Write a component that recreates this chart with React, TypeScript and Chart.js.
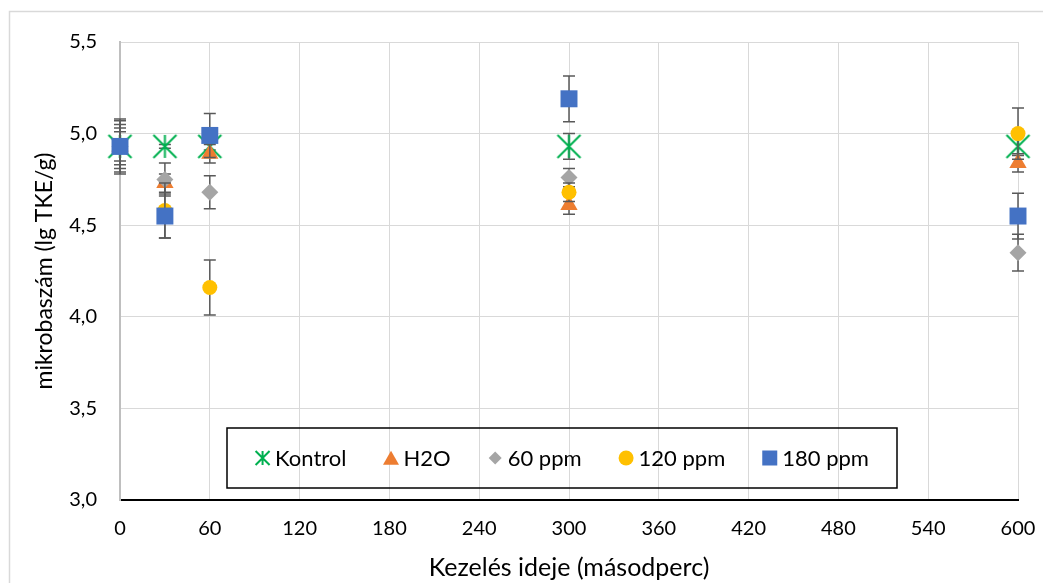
import React, { useEffect, useRef } from "react";
import { Chart, registerables } from "chart.js";
Chart.register(...registerables);

const times = [0, 30, 60, 300, 600];
const seriesNames = ["Kontrol", "H2O", "60 ppm", "120 ppm", "180 ppm"];
const kontrolValues = [4.93, 4.93, 4.93, 4.93, 4.93];
const h2oValues = [4.93, 4.73, 4.89, 4.61, 4.84];
const ppm60Values = [4.93, 4.75, 4.68, 4.76, 4.35];
const ppm120Values = [4.93, 4.58, 4.16, 4.68, 5.0];
const ppm180Values = [4.93, 4.55, 4.99, 5.19, 4.55];
const kontrolErr = [0.08, 0.01, 0.02, 0.07, 0.05];
const h2oErr = [0.1, 0.05, 0.05, 0.05, 0.05];
const ppm60Err = [0.12, 0.09, 0.09, 0.05, 0.1];
const ppm120Err = [0.14, 0.15, 0.15, 0.05, 0.14];
const ppm180Err = [0.15, 0.12, 0.12, 0.125, 0.125];
const xTickValues = [0, 60, 120, 180, 240, 300, 360, 420, 480, 540, 600];
const yTickValues = [3.0, 3.5, 4.0, 4.5, 5.0, 5.5];

const colors = ["#00B050", "#ED7D31", "#A5A5A5", "#FFC000", "#4472C4"];
const styles = ["star", "triangle", "rectRot", "circle", "rect"];
const FONT = "Lato";

function makeStar(size: number, color: string, lw: number) {
  const c = document.createElement("canvas");
  c.width = size;
  c.height = size;
  const g = c.getContext("2d")!;
  g.strokeStyle = color;
  g.lineWidth = lw;
  const p = lw;
  g.beginPath();
  g.moveTo(p, p);
  g.lineTo(size - p, size - p);
  g.moveTo(size - p, p);
  g.lineTo(p, size - p);
  g.moveTo(size / 2, p);
  g.lineTo(size / 2, size - p);
  g.stroke();
  return c;
}

function drawMarker(ctx: CanvasRenderingContext2D, style: string, x: number, y: number, color: string, s: number) {
  ctx.save();
  ctx.fillStyle = color;
  ctx.strokeStyle = color;
  ctx.beginPath();
  if (style === "star") {
    const h = s / 2;
    ctx.lineWidth = 2;
    ctx.moveTo(x - h, y - h);
    ctx.lineTo(x + h, y + h);
    ctx.moveTo(x + h, y - h);
    ctx.lineTo(x - h, y + h);
    ctx.moveTo(x, y - h);
    ctx.lineTo(x, y + h);
    ctx.stroke();
  } else if (style === "triangle") {
    ctx.moveTo(x, y - s * 0.45);
    ctx.lineTo(x + s / 2, y + s * 0.42);
    ctx.lineTo(x - s / 2, y + s * 0.42);
    ctx.closePath();
    ctx.fill();
  } else if (style === "rectRot") {
    const h = s / 2;
    ctx.moveTo(x, y - h);
    ctx.lineTo(x + h, y);
    ctx.lineTo(x, y + h);
    ctx.lineTo(x - h, y);
    ctx.closePath();
    ctx.fill();
  } else if (style === "circle") {
    ctx.arc(x, y, s / 2, 0, Math.PI * 2);
    ctx.fill();
  } else {
    ctx.fillRect(x - s / 2, y - s / 2, s, s);
  }
  ctx.restore();
}

export default function App() {
  const ref = useRef<HTMLCanvasElement>(null);
  useEffect(() => {
    document.body.style.margin = "0";
    const valuesList = [kontrolValues, h2oValues, ppm60Values, ppm120Values, ppm180Values];
    const errList = [kontrolErr, h2oErr, ppm60Err, ppm120Err, ppm180Err];
    const radii = [13, 10, 8.5, 7.5, 12];
    const starImg = makeStar(27, colors[0], 2);

    const datasets = seriesNames.map((name, i) => ({
      label: name,
      data: times.map((t, j) => ({ x: t, y: valuesList[i][j] })),
      backgroundColor: colors[i],
      borderColor: colors[i],
      pointStyle: i === 0 ? (starImg as any) : styles[i],
      pointRadius: radii[i],
      pointBorderWidth: 0,
      showLine: false,
      clip: false,
      order: 5 - i,
    }));

    const errorBars = {
      id: "errorBars",
      beforeDatasetDraw(chart: any, args: any) {
        const i = args.index;
        const { ctx } = chart;
        const xs = chart.scales.x;
        const ys = chart.scales.y;
        ctx.save();
        ctx.strokeStyle = "#595959";
        ctx.lineWidth = 1.5;
        times.forEach((t, j) => {
          const v = valuesList[i][j];
          const e = errList[i][j];
          const px = xs.getPixelForValue(t);
          const y1 = ys.getPixelForValue(v + e);
          const y2 = ys.getPixelForValue(v - e);
          ctx.beginPath();
          ctx.moveTo(px, y1);
          ctx.lineTo(px, y2);
          ctx.moveTo(px - 6, y1);
          ctx.lineTo(px + 6, y1);
          ctx.moveTo(px - 6, y2);
          ctx.lineTo(px + 6, y2);
          ctx.stroke();
        });
        ctx.restore();
      },
    };

    const frame = {
      id: "frame",
      beforeDraw(chart: any) {
        const { ctx } = chart;
        ctx.save();
        ctx.strokeStyle = "#d9d9d9";
        ctx.lineWidth = 1.5;
        ctx.strokeRect(9.5, 11.5, 1200, 800);
        ctx.restore();
      },
    };

    const legend = {
      id: "customLegend",
      afterDraw(chart: any) {
        const { ctx, chartArea } = chart;
        const boxL = chartArea.left + 107;
        const boxT = chartArea.bottom - 72;
        const boxW = 670;
        const boxH = 60;
        ctx.save();
        ctx.strokeStyle = "#000";
        ctx.lineWidth = 1.5;
        ctx.strokeRect(boxL, boxT, boxW, boxH);
        ctx.font = `22px ${FONT}`;
        const mw = 15, mg = 5, gap = 37;
        const widths = seriesNames.map((n) => ctx.measureText(n).width);
        const total = widths.reduce((a, b) => a + b + mw + mg, 0) + gap * (seriesNames.length - 1);
        let x = boxL + (boxW - total) / 2;
        const cy = boxT + boxH / 2;
        const sizes = [14, 16, 13, 15, 15];
        seriesNames.forEach((n, i) => {
          drawMarker(ctx, styles[i], x + mw / 2, cy, colors[i], sizes[i]);
          ctx.fillStyle = "#000";
          ctx.textBaseline = "middle";
          ctx.textAlign = "left";
          ctx.fillText(n, x + mw + mg, cy + 1);
          x += mw + mg + widths[i] + gap;
        });
        ctx.restore();
      },
    };

    const tickFont = { family: FONT, size: 20 };
    const xTitleFont = { family: FONT, size: 25 };
    const yTitleFont = { family: FONT, size: 23 };
    const chart = new Chart(ref.current!, {
      type: "scatter",
      data: { datasets: datasets as any },
      options: {
        animation: false,
        responsive: false,
        events: [],
        layout: { padding: { top: 42, right: 25, left: 0, bottom: 0 } },
        plugins: { legend: { display: false }, tooltip: { enabled: false } },
        scales: {
          x: {
            type: "linear",
            min: 0,
            max: 600,
            afterBuildTicks: (s: any) => {
              s.ticks = xTickValues.map((v) => ({ value: v }));
            },
            afterFit: (s: any) => {
              s.height = 83;
              s.paddingLeft = 0;
              s.paddingRight = 0;
            },
            grid: { color: "#d9d9d9", lineWidth: 1, drawTicks: false },
            border: { color: "#000", width: 2 },
            ticks: { padding: 17, font: tickFont, color: "#000", autoSkip: false, maxRotation: 0 },
            title: {
              display: true,
              text: "Kezelés ideje (másodperc)",
              font: xTitleFont,
              color: "#000",
              padding: { top: 0, bottom: 0 },
            },
          },
          y: {
            type: "linear",
            min: 3,
            max: 5.5,
            afterBuildTicks: (s: any) => {
              s.ticks = yTickValues.map((v) => ({ value: v }));
            },
            afterFit: (s: any) => {
              s.width = 120;
              s.paddingTop = 0;
              s.paddingBottom = 0;
            },
            grid: { color: "#d9d9d9", lineWidth: 1, drawTicks: false },
            border: { color: "#bfbfbf", width: 2 },
            ticks: {
              padding: 23,
              font: tickFont,
              color: "#000",
              callback: (v: any) => Number(v).toFixed(1).replace(".", ","),
            },
            title: {
              display: true,
              text: "mikrobaszám (lg TKE/g)",
              font: yTitleFont,
              color: "#000",
              padding: { top: 31, bottom: 0 },
            },
          },
        },
      },
      plugins: [frame, errorBars, legend],
    });
    return () => chart.destroy();
  }, []);
  return (
    <div style={{ width: 1043, height: 583 }}>
      <canvas ref={ref} width={1043} height={583} />
    </div>
  );
}
